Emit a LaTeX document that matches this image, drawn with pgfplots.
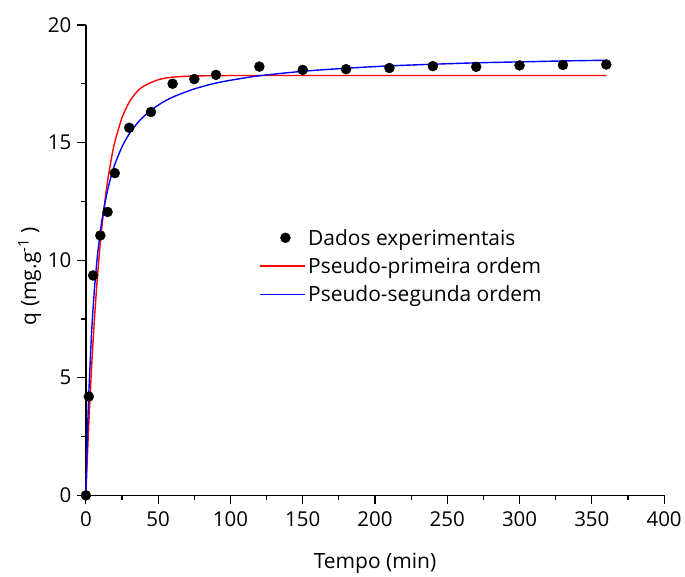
\documentclass[border=0pt]{standalone}
\usepackage{fontspec}
\setmainfont{Open Sans}
\usepackage{pgfplots}
\pgfplotsset{compat=1.18}
\usetikzlibrary{calc}
\definecolor{pfo}{RGB}{255,0,0}
\definecolor{pso}{RGB}{0,0,255}
\pgfplotsset{
    longline/.style={legend image code/.code={\draw[#1, line width=1.6pt] (0pt,0pt) -- (45pt,0pt);}},
    dotleg/.style={legend image code/.code={\fill[black] (25pt,0pt) circle (5pt);}},
}
\begin{document}
\begin{tikzpicture}[x=1pt,y=1pt]
\begin{axis}[
    scale only axis,
    width=579pt, height=471pt,
    xmin=0, xmax=400, ymin=0, ymax=20,
    axis x line*=bottom, axis y line*=left,
    axis line style={line width=1.3pt},
    xtick={0,50,...,400}, ytick={0,5,...,20},
    minor x tick num=1, minor y tick num=1,
    tick align=outside,
    major tick length=9pt, minor tick length=5pt,
    every tick/.style={line width=1.2pt, black},
    tick label style={font=\fontsize{20.5}{23}\selectfont},
    xticklabel style={yshift=-4pt},
    yticklabel style={xshift=-2pt},
    /pgf/number format/assume math mode=true,
    xlabel={Tempo (min)}, ylabel={q (mg.g\textsuperscript{-1} )},
    label style={font=\fontsize{21}{24}\selectfont},
    xlabel style={yshift=-19pt},
    ylabel style={yshift=0pt, xshift=-16pt},
    clip=false,
    legend cell align=left,
    legend style={at={(0.295,0.575)}, anchor=north west, draw=none, fill=none,
        font=\fontsize{21}{24}\selectfont, row sep=7pt,
        every odd column/.append style={column sep=5pt}},
]
\addplot[only marks, mark=*, mark size=5pt, black, dotleg]
coordinates {
(0,0) (2,4.2) (5,9.35) (10,11.05) (15,12.05) (20,13.7) (30,15.63) (45,16.3)
(60,17.5) (75,17.7) (90,17.88) (120,18.23) (150,18.09) (180,18.12)
(210,18.17) (240,18.25) (270,18.22) (300,18.28) (330,18.3) (360,18.32)
};
\addlegendentry{Dados experimentais}
\addplot[pfo, line width=1.4pt, smooth, longline=pfo]
coordinates {
(0,0) (1,1.57) (2,3.00) (4,5.50) (6,7.57) (8,9.30) (10,10.74) (12,11.93)
(15,13.36) (18,14.44) (20,15.02) (25,16.06) (30,16.72) (35,17.14)
(40,17.40) (50,17.67) (60,17.78) (75,17.83) (100,17.85) (150,17.85)
(200,17.85) (300,17.85) (360,17.85)
};
\addlegendentry{Pseudo-primeira ordem}
\addplot[pso, line width=1.4pt, smooth, longline=pso]
coordinates {
(0,0) (1,2.42) (2,4.28) (4,6.98) (6,8.83) (8,10.19) (10,11.22) (12,12.03)
(15,12.97) (18,13.68) (20,14.07) (25,14.82) (30,15.37) (35,15.78)
(40,16.11) (50,16.59) (60,16.93) (75,17.28) (90,17.53) (105,17.70)
(120,17.84) (150,18.03) (180,18.16) (210,18.26) (240,18.33) (270,18.39)
(300,18.43) (330,18.47) (360,18.50)
};
\addlegendentry{Pseudo-segunda ordem}
\end{axis}
\path ($(current axis.south west)+(-86pt,-77pt)$) rectangle ($(current axis.north east)+(20pt,25pt)$);
\end{tikzpicture}
\end{document}
